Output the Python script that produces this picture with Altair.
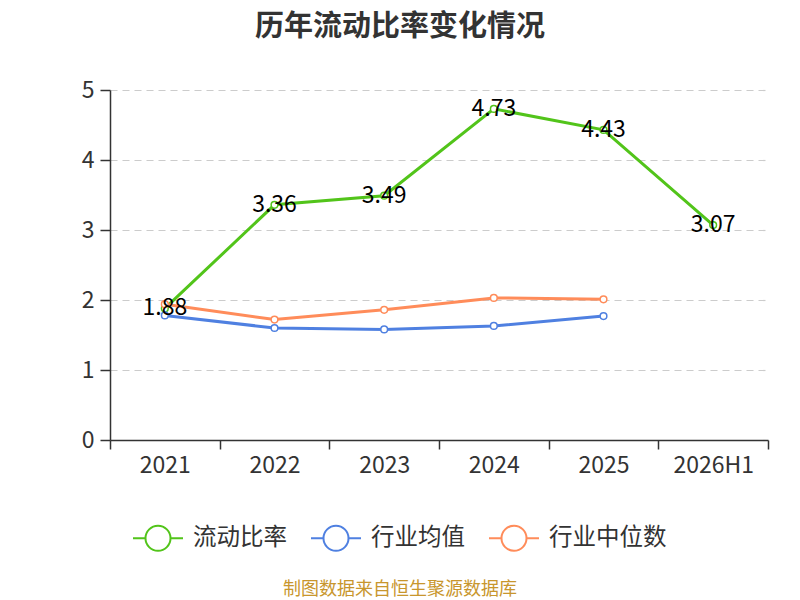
import altair as alt
import pandas as pd

years = ["2021", "2022", "2023", "2024", "2025", "2026H1"]
ratio = [1.88, 3.36, 3.49, 4.73, 4.43, 3.07]
ind_avg = [1.78, 1.60, 1.58, 1.63, 1.77]
ind_median = [1.94, 1.72, 1.86, 2.03, 2.01]
series = ["流动比率", "行业均值", "行业中位数"]
colors = ["#52c41a", "#4f80e1", "#ff8c5a"]
title_text = "历年流动比率变化情况"
source_text = "制图数据来自恒生聚源数据库"

rows = []
for name, vals in zip(series, [ratio, ind_avg, ind_median]):
    for y, v in zip(years, vals):
        rows.append({"year": y, "value": v, "series": name})
df = pd.DataFrame(rows)
df_ratio = df[df["series"] == series[0]]

FONT = "Noto Sans CJK SC"
legend_sym = "M-1,0L-0.5,0M0.5,0L1,0M0.5,0A0.5,0.5,0,1,1,-0.5,0A0.5,0.5,0,1,1,0.5,0"

x_enc = alt.X(
    "year:N",
    sort=years,
    scale=alt.Scale(type="band", domain=years, paddingInner=0, paddingOuter=0),
    axis=alt.Axis(
        title=None, labelAngle=0, tickBand="extent", grid=False,
        labelFontSize=23, labelColor="#333333", labelFont=FONT, labelPadding=5,
        domainColor="#333333", domainWidth=1.5, tickColor="#333333", tickWidth=1.5, tickSize=9,
    ),
)
y_enc = alt.Y(
    "value:Q",
    scale=alt.Scale(domain=[0, 5]),
    axis=alt.Axis(
        title=None, values=[0, 1, 2, 3, 4, 5], format="d",
        labelFontSize=23, labelColor="#333333", labelFont=FONT, labelPadding=6,
        domainColor="#333333", domainWidth=1.5, tickColor="#333333", tickWidth=1.5, tickSize=10,
        grid=True, gridColor="#cccccc", gridDash=[7, 5], gridWidth=1.2,
    ),
)
color_enc = alt.Color(
    "series:N",
    scale=alt.Scale(domain=series, range=colors),
    sort=series,
    legend=alt.Legend(
        title=None, orient="none", direction="horizontal", legendX=22, legendY=422,
        symbolType=legend_sym, symbolSize=2500, symbolStrokeWidth=2, symbolFillColor="white",
        labelFontSize=23.5, labelFont=FONT, labelColor="#333333", labelOffset=9,
        columnPadding=20, padding=0,
    ),
)

lines = alt.Chart(df).mark_line(
    strokeWidth=3,
    point=alt.OverlayMarkDef(filled=False, fill="white", size=45, strokeWidth=1.5),
).encode(x=x_enc, y=y_enc, color=color_enc, order=alt.Order("series:N"))

labels = alt.Chart(df_ratio).mark_text(
    fontSize=23, font=FONT, color="#000000", baseline="middle", align="center"
).encode(x=x_enc, y=y_enc, text=alt.Text("value:Q", format=".2f"))

title = alt.Chart(pd.DataFrame({"t": [title_text]})).mark_text(
    fontSize=29, fontWeight="bold", font=FONT, color="#333333", align="center", baseline="middle"
).encode(x=alt.value(290), y=alt.value(-63), text="t:N")

source = alt.Chart(pd.DataFrame({"t": [source_text]})).mark_text(
    fontSize=18, font=FONT, color="#c8962d", align="center", baseline="middle"
).encode(x=alt.value(290), y=alt.value(500), text="t:N")

chart = alt.layer(lines, labels, title, source).properties(
    width=658, height=350,
    autosize=alt.AutoSizeParams(type="none"),
    padding={"left": 102, "top": 82, "right": 24, "bottom": 160},
).configure_view(stroke=None)

chart.save("out.html", embed_options={"renderer": "svg", "actions": False})
